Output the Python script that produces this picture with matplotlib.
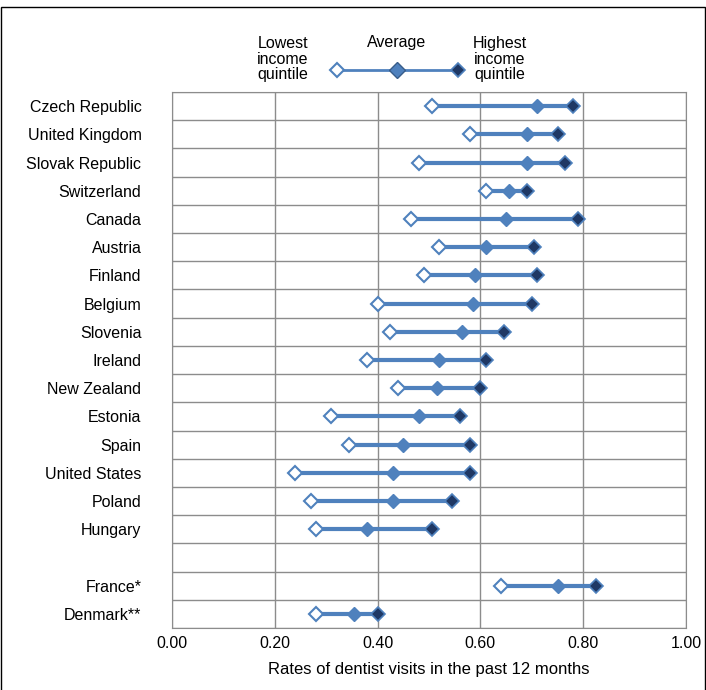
import matplotlib.pyplot as plt
from matplotlib.lines import Line2D

countries = ["Czech Republic", "United Kingdom", "Slovak Republic", "Switzerland", "Canada",
             "Austria", "Finland", "Belgium", "Slovenia", "Ireland", "New Zealand", "Estonia",
             "Spain", "United States", "Poland", "Hungary", "", "France*", "Denmark**"]
lowest = [0.505, 0.58, 0.48, 0.61, 0.465, 0.52, 0.49, 0.40, 0.425, 0.38, 0.44, 0.31,
          0.345, 0.24, 0.27, 0.28, None, 0.64, 0.28]
average = [0.71, 0.69, 0.69, 0.655, 0.65, 0.61, 0.59, 0.585, 0.565, 0.52, 0.515, 0.48,
           0.45, 0.43, 0.43, 0.38, None, 0.75, 0.355]
highest = [0.78, 0.75, 0.765, 0.69, 0.79, 0.705, 0.71, 0.70, 0.645, 0.61, 0.60, 0.56,
           0.58, 0.58, 0.545, 0.505, None, 0.825, 0.40]

blue = "#4F81BD"
navy = "#1F3864"
plt.rcParams['font.family'] = ['Liberation Sans', 'DejaVu Sans']

fig = plt.figure(figsize=(7.06, 6.9), dpi=100)
ax = fig.add_axes([172/706, 62/690, 514/706, 536/690])
n = len(countries)
for i in range(n):
    if lowest[i] is None:
        continue
    y = n - 1 - i
    ax.plot([lowest[i], highest[i]], [y, y], color=blue, lw=3, zorder=2)
    ax.plot(highest[i], y, marker="D", ms=7, mfc=navy, mec=blue, mew=1.2, zorder=3)
    ax.plot(average[i], y, marker="D", ms=7, mfc=blue, mec=blue, zorder=3)
    ax.plot(lowest[i], y, marker="D", ms=7, mfc="white", mec=blue, mew=1.5, zorder=4)

ax.set_xlim(0, 1)
ax.set_ylim(-0.5, n - 0.5)
ax.set_xticks([0, 0.2, 0.4, 0.6, 0.8, 1.0])
ax.set_xticklabels(["0.00", "0.20", "0.40", "0.60", "0.80", "1.00"], fontsize=11.5)
ax.set_yticks(range(n))
ax.set_yticklabels(countries[::-1], fontsize=11.5)
ax.set_yticks([k + 0.5 for k in range(-1, n)], minor=True)
ax.tick_params(axis="y", length=0, which="both", pad=22)
ax.tick_params(axis="x", length=0, which="both", pad=6)
ax.grid(True, axis="x", color="#8c8c8c", lw=1)
ax.grid(True, axis="y", which="minor", color="#8c8c8c", lw=1)
ax.set_axisbelow(True)
for s in ax.spines.values():
    s.set_color("#8c8c8c")
ax.set_xlabel("Rates of dentist visits in the past 12 months", fontsize=12, labelpad=8)

# legend
ly = 1 - 70/690
fig.add_artist(Line2D([337/706, 458/706], [ly, ly], color=blue, lw=2))
fig.add_artist(Line2D([458/706], [ly], marker="D", ms=7, mfc=navy, mec=blue, mew=1.2))
fig.add_artist(Line2D([397/706], [ly], marker="D", ms=8, mfc=blue, mec="#385d8a"))
fig.add_artist(Line2D([337/706], [ly], marker="D", ms=7, mfc="white", mec=blue, mew=1.5))
fig.text(283/706, 1 - 59/690, "Lowest\nincome\nquintile", ha="center", va="center", fontsize=11.5, linespacing=1.05)
fig.text(397/706, 1 - 42/690, "Average", ha="center", va="center", fontsize=11.5)
fig.text(500/706, 1 - 59/690, "Highest\nincome\nquintile", ha="center", va="center", fontsize=11.5, linespacing=1.05)

fig.add_artist(plt.Rectangle((0.002, -0.01), 0.996, 1.0, fill=False, ec="black", lw=1, transform=fig.transFigure))
fig.savefig("out.png", dpi=100)
